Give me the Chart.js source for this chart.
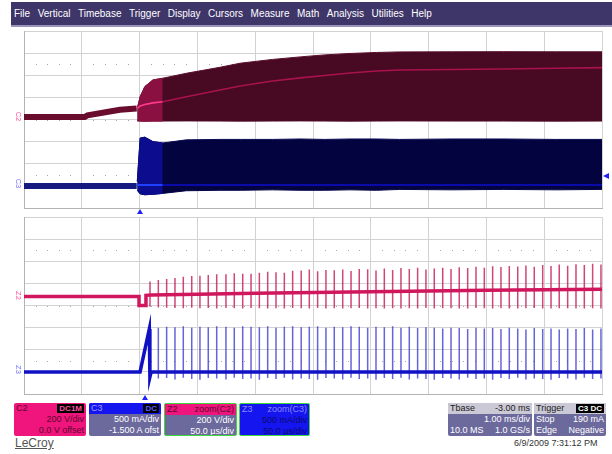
<!DOCTYPE html>
<html>
<head>
<meta charset="utf-8">
<script src="https://cdn.jsdelivr.net/npm/chart.js@4/dist/chart.umd.min.js"></script>
<style>
  body { margin:0; width:612px; height:454px; background:#fff; position:relative; overflow:hidden;
         font-family:"Liberation Sans", Arial, sans-serif; }
  #menu { position:absolute; left:11px; top:2px; width:601px; height:25px; background:#3e3569;
          border-bottom:2px solid #9a95b8; display:flex; align-items:center; padding-left:3px; box-sizing:border-box; }
  #menu span { color:#fff; font-size:10px; margin-right:7.5px; }
  .plot { position:absolute; left:23px; width:580px; height:179px; }
  .lbl { position:absolute; font-size:7.5px; transform:rotate(90deg); transform-origin:center; }
  .tri-up { position:absolute; width:0; height:0; border-left:3px solid transparent;
            border-right:3px solid transparent; border-bottom:5px solid #2020ff; }
  .tri-left { position:absolute; width:0; height:0; border-top:3px solid transparent;
              border-bottom:3px solid transparent; border-right:6px solid #2020ff; }
  .box { position:absolute; top:403px; height:33px; font-size:9px; border-radius:2px; overflow:hidden;
         box-sizing:border-box; background:#6c699c; color:#fff; }
  .box .hd { height:11px; line-height:11px; display:flex; justify-content:space-between; padding:0 2px; }
  .box .ln { height:11px; line-height:11px; display:flex; justify-content:space-between; padding:0 2px; }
  .badge { background:#000; padding:0 2px; line-height:9px; height:9px; margin-top:1px; font-size:8px; font-weight:bold; }
</style>
</head>
<body>
<div id="menu">
  <span>File</span><span>Vertical</span><span>Timebase</span><span>Trigger</span><span>Display</span>
  <span>Cursors</span><span>Measure</span><span>Math</span><span>Analysis</span><span>Utilities</span><span>Help</span>
</div>

<div class="plot" style="top:30px"><canvas id="mainChart"></canvas></div>
<div class="plot" style="top:216px"><canvas id="zoomChart"></canvas></div>

<div class="lbl" style="left:14px;top:112px;color:#ff4f9a">C2</div>
<div class="lbl" style="left:14px;top:179px;color:#6f6fff">C3</div>
<div class="lbl" style="left:14px;top:291px;color:#ff4f9a">Z2</div>
<div class="lbl" style="left:14px;top:365px;color:#6f6fff">Z3</div>
<div class="tri-up" style="left:137px;top:209px"></div>
<div class="tri-up" style="left:142px;top:395px"></div>
<div class="tri-left" style="left:603px;top:173px"></div>

<div class="box" style="left:14px;width:72px;background:#f0157c;color:#5a0a30">
  <div class="hd"><span>C2</span><span class="badge" style="color:#ff4fa0">DC1M</span></div>
  <div class="ln"><span></span><span>200 V/div</span></div>
  <div class="ln"><span></span><span>0.0 V offset</span></div>
</div>
<div class="box" style="left:89px;width:72px">
  <div class="hd" style="background:#1515f0;color:#9a9aff"><span>C3</span><span class="badge" style="color:#5a5aff">DC</span></div>
  <div class="ln"><span></span><span>500 mA/div</span></div>
  <div class="ln"><span></span><span>-1.500 A ofst</span></div>
</div>
<div class="box" style="left:164px;width:73px;border:1.5px solid #3cd83c">
  <div class="hd" style="background:#f0157c;color:#5a0a30"><span>Z2</span><span>zoom(C2)</span></div>
  <div class="ln"><span></span><span>200 V/div</span></div>
  <div class="ln"><span></span><span>50.0 µs/div</span></div>
</div>
<div class="box" style="left:239px;width:71px;border:1.5px solid #3cd83c;background:#1515f0;color:#0a0a70">
  <div class="hd" style="color:#8a8aff"><span>Z3</span><span>zoom(C3)</span></div>
  <div class="ln"><span></span><span>500 mA/div</span></div>
  <div class="ln"><span></span><span>50.0 µs/div</span></div>
</div>
<div class="box" style="left:448px;width:84px">
  <div class="hd" style="background:#cbc9d6;color:#222"><span>Tbase</span><span>-3.00 ms</span></div>
  <div class="ln"><span></span><span>1.00 ms/div</span></div>
  <div class="ln"><span>10.0 MS</span><span>1.0 GS/s</span></div>
</div>
<div class="box" style="left:534px;width:72px">
  <div class="hd" style="background:#cbc9d6;color:#222"><span>Trigger</span><span class="badge" style="color:#fff">C3 DC</span></div>
  <div class="ln"><span>Stop</span><span>190 mA</span></div>
  <div class="ln"><span>Edge</span><span>Negative</span></div>
</div>
<div style="position:absolute;left:15px;top:436px;font-size:12px;color:#555;text-decoration:underline">LeCroy</div>
<div style="position:absolute;left:514px;top:438px;font-size:9px;color:#333">6/9/2009 7:31:12 PM</div>

<script>
// ── DATA ──
// main acquisition (ms, trigger at 0): C2 in volts, C3 in amps
const preTime = [-2.0, -0.95, -0.9, -0.34, -0.05];
const c2Pre   = [22, 22, 38, 88, 100];
const c3Pre   = [0, 0, 0, 0, 0];

const envTime = [-0.04, 0.01, 0.09, 0.23, 0.4, 0.81, 1.39, 1.74, 2.3, 2.78, 3.2, 3.64, 4.1, 4.5, 5.4, 6.3, 7.2, 8.0];
const c2Max   = [100, 206, 297, 357, 373, 418, 472, 509, 543, 566, 584, 597, 606, 611, 612, 613, 612, 612];
const c2Min   = [-12, -14, -15, -14, -14, -13, -14, -15, -14, -13, -14, -15, -14, -13, -14, -14, -15, -14];
const c2Avg   = [100, 122, 135, 150, 161, 206, 267, 303, 348, 376, 398, 421, 439, 448, 452, 457, 463, 469];
const c3Max   = [0.1, 1.08, 1.10, 1.0, 0.97, 1.04, 1.05, 1.05, 1.05, 1.06, 1.05, 1.06, 1.06, 1.05, 1.06, 1.06, 1.05, 1.05];
const c3Min   = [-0.1, -0.18, -0.2, -0.19, -0.17, -0.11, -0.1, -0.1, -0.09, -0.1, -0.1, -0.09, -0.1, -0.08, -0.09, -0.08, -0.09, -0.08];
const c3Avg   = [0.02, 0.02, 0.02, 0.02, 0.02, 0.02, 0.02, 0.02, 0.02, 0.02, 0.02, 0.02, 0.02, 0.02, 0.02, 0.02, 0.02, 0.02];

// zoom traces (µs from left edge of zoom window)
const z2BaseTime = [0, 99.5, 99.5, 105.5, 105.5, 110, 150, 200, 250, 300, 350, 400, 450, 500];
const z2Base     = [2, 2, -80, -80, 12, 15, 22, 30, 38, 45, 52, 58, 63, 68];
const z3BaseTime = [0, 100.4, 108.4, 108.9, 110, 500];
const z3Base     = [0, 0, 0.97, -0.12, 0, 0];

const zoomTime = [109.0,116.2,123.4,130.6,137.8,145.1,152.2,159.4,166.7,174.7,
                  181.9,189.2,196.4,203.6,210.8,218.0,225.2,232.4,239.8,246.8,
                  254.0,261.2,268.4,275.7,282.9,290.0,297.3,304.5,311.7,318.9,
                  326.1,333.3,340.5,347.7,354.9,362.2,369.4,376.5,383.8,391.0,
                  398.2,405.4,412.6,419.8,427.1,434.2,441.4,448.7,455.9,463.0,
                  470.3,477.5,484.7,491.9,499.1];
const z2High = [136,151,160,169,181,187,190,196,203,203,
                212,206,206,215,226,220,217,233,236,245,
                230,240,238,245,232,250,248,236,255,242,
                258,250,262,245,255,262,250,265,258,270,
                262,275,268,278,272,282,270,285,278,290,
                280,292,285,298,290];
const z2Low  = [-92,-98,-100,-102,-104,-100,-105,-103,-106,-102,
                -104,-107,-103,-105,-108,-104,-106,-102,-105,-107,
                -103,-106,-104,-108,-105,-103,-107,-104,-106,-105,
                -108,-104,-106,-103,-107,-105,-104,-108,-106,-103,
                -105,-107,-104,-106,-108,-105,-103,-107,-106,-104,
                -105,-108,-106,-104,-107];
const z3High = [0.97,1.0,1.02,1.01,1.03,1.0,1.02,1.01,1.03,1.02,
                1.0,1.03,1.02,1.01,1.03,1.0,1.02,1.03,1.01,1.02,
                1.03,1.0,1.02,1.01,1.03,1.02,1.0,1.02,1.01,1.03,
                1.0,1.02,0.99,1.01,1.0,0.98,1.0,0.99,0.97,1.0,
                0.98,0.99,0.97,1.0,0.98,0.96,0.99,0.97,0.98,0.96,
                0.98,0.97,0.99,0.96,0.98];
const z3Low  = [-0.12,-0.15,-0.14,-0.17,-0.13,-0.16,-0.18,-0.14,-0.15,-0.17,
                -0.13,-0.16,-0.15,-0.18,-0.14,-0.16,-0.13,-0.17,-0.15,-0.16,
                -0.18,-0.14,-0.15,-0.17,-0.13,-0.16,-0.15,-0.18,-0.14,-0.16,
                -0.13,-0.17,-0.15,-0.16,-0.18,-0.14,-0.15,-0.17,-0.13,-0.16,
                -0.15,-0.18,-0.14,-0.16,-0.13,-0.17,-0.15,-0.16,-0.18,-0.14,
                -0.15,-0.17,-0.13,-0.16,-0.15];

const BRIGHT_END = 0.4; // ms, end of the brighter persistence zone

// ── HELPERS ──
const pts = (xs, ys) => xs.map((x, i) => ({ x, y: ys[i] }));
const upto = (xs, ys, lim) => pts(xs, ys).filter(p => p.x <= lim);
const spikes = (ts, hi, lo) => {
  const out = [];
  ts.forEach((t, i) => { out.push({ x: t, y: hi[i] }, { x: t, y: lo[i] }, { x: t, y: null }); });
  return out;
};

const GRID = '#d2d2d2';
const BORDER = '#b4b4b4';

// dotted rows at center and ±2.5 div, 5 dots per division
const scopeDots = {
  id: 'scopeDots',
  beforeDatasetsDraw(chart) {
    const { ctx, chartArea: a, scales } = chart;
    const g = scales.g;
    ctx.save();
    ctx.fillStyle = '#a8a8a8';
    [-2.5, 0, 2.5].forEach(v => {
      const py = Math.round(g.getPixelForValue(v));
      for (let i = 1; i < 50; i++) {
        if (i % 5 === 0) continue;
        const px = Math.round(a.left + i * (a.right - a.left) / 50);
        ctx.fillRect(px, py, 1, 1);
      }
    });
    ctx.restore();
  }
};

function scopeScales(xMin, xMax, xStep, extra) {
  return Object.assign({
    x: { type: 'linear', min: xMin, max: xMax,
         ticks: { display: false, stepSize: xStep },
         grid: { color: GRID, drawTicks: false },
         border: { color: BORDER } },
    g: { type: 'linear', position: 'left', min: -4, max: 4,
         ticks: { display: false, stepSize: 1 },
         grid: { color: GRID, drawTicks: false },
         border: { color: BORDER } }
  }, extra);
}

const baseOpts = {
  responsive: true,
  maintainAspectRatio: false,
  animation: false,
  layout: { padding: 1 },
  plugins: { legend: { display: false }, tooltip: { enabled: false } },
  elements: { point: { radius: 0 }, line: { tension: 0 } }
};

// ── MAIN ACQUISITION ──
new Chart(document.getElementById('mainChart'), {
  type: 'line',
  data: { datasets: [
    { data: pts(envTime, c2Max), yAxisID: 'c2', fill: '+1', backgroundColor: '#470a22', borderColor: '#5a0e2c', borderWidth: 1, order: 6 },
    { data: pts(envTime, c2Min), yAxisID: 'c2', fill: false, borderColor: '#5a0e2c', borderWidth: 1, order: 6 },
    { data: upto(envTime, c2Max, BRIGHT_END), yAxisID: 'c2', fill: '+1', backgroundColor: '#8a1042', borderColor: '#8a1042', borderWidth: 1, order: 5 },
    { data: upto(envTime, c2Min, BRIGHT_END), yAxisID: 'c2', fill: false, borderColor: '#8a1042', borderWidth: 1, order: 5 },
    { data: pts(preTime, c2Pre), yAxisID: 'c2', borderColor: '#6a0c2e', borderWidth: 6, order: 4 },
    { data: pts(envTime, c2Avg), yAxisID: 'c2', borderWidth: 1.6, order: 1,
      segment: { borderColor: c => c.p0.parsed.x < BRIGHT_END ? '#ff3a8c' : '#a8124e' } },

    { data: pts(envTime, c3Max), yAxisID: 'c3', fill: '+1', backgroundColor: '#03033f', borderColor: '#0a0a55', borderWidth: 1, order: 6 },
    { data: pts(envTime, c3Min), yAxisID: 'c3', fill: false, borderColor: '#0a0a55', borderWidth: 1, order: 6 },
    { data: upto(envTime, c3Max, BRIGHT_END), yAxisID: 'c3', fill: '+1', backgroundColor: '#0c0c8e', borderColor: '#0c0c8e', borderWidth: 1, order: 5 },
    { data: upto(envTime, c3Min, BRIGHT_END), yAxisID: 'c3', fill: false, borderColor: '#0c0c8e', borderWidth: 1, order: 5 },
    { data: pts(preTime, c3Pre), yAxisID: 'c3', borderColor: '#141a80', borderWidth: 6, order: 4 },
    { data: pts(envTime, c3Avg), yAxisID: 'c3', borderWidth: 2, order: 1,
      segment: { borderColor: c => c.p0.parsed.x < BRIGHT_END ? '#2040ff' : '#0a0aa8' } }
  ] },
  options: Object.assign({}, baseOpts, {
    scales: scopeScales(-2, 8, 1, {
      c2: { type: 'linear', display: false, min: -800, max: 800 },
      c3: { type: 'linear', display: false, min: -0.5, max: 3.5 }
    })
  }),
  plugins: [scopeDots]
});

// ── ZOOM TRACES ──
new Chart(document.getElementById('zoomChart'), {
  type: 'line',
  data: { datasets: [
    { data: pts(z2BaseTime, z2Base), yAxisID: 'z2', borderColor: '#d0165c', borderWidth: 3.5, order: 1 },
    { data: spikes(zoomTime, z2High, z2Low), yAxisID: 'z2', borderColor: 'rgba(196,24,86,0.8)', borderWidth: 1.5, order: 2 },
    { data: pts(z3BaseTime, z3Base), yAxisID: 'z3', borderColor: '#1010c4', borderWidth: 3.5, order: 1 },
    { data: spikes(zoomTime, z3High, z3Low), yAxisID: 'z3', borderColor: 'rgba(50,50,205,0.75)', borderWidth: 1.5, order: 2 }
  ] },
  options: Object.assign({}, baseOpts, {
    scales: scopeScales(0, 500, 50, {
      z2: { type: 'linear', display: false, min: -880, max: 720 },
      z3: { type: 'linear', display: false, min: -0.5, max: 3.5 }
    })
  }),
  plugins: [scopeDots]
});
</script>
</body>
</html>
